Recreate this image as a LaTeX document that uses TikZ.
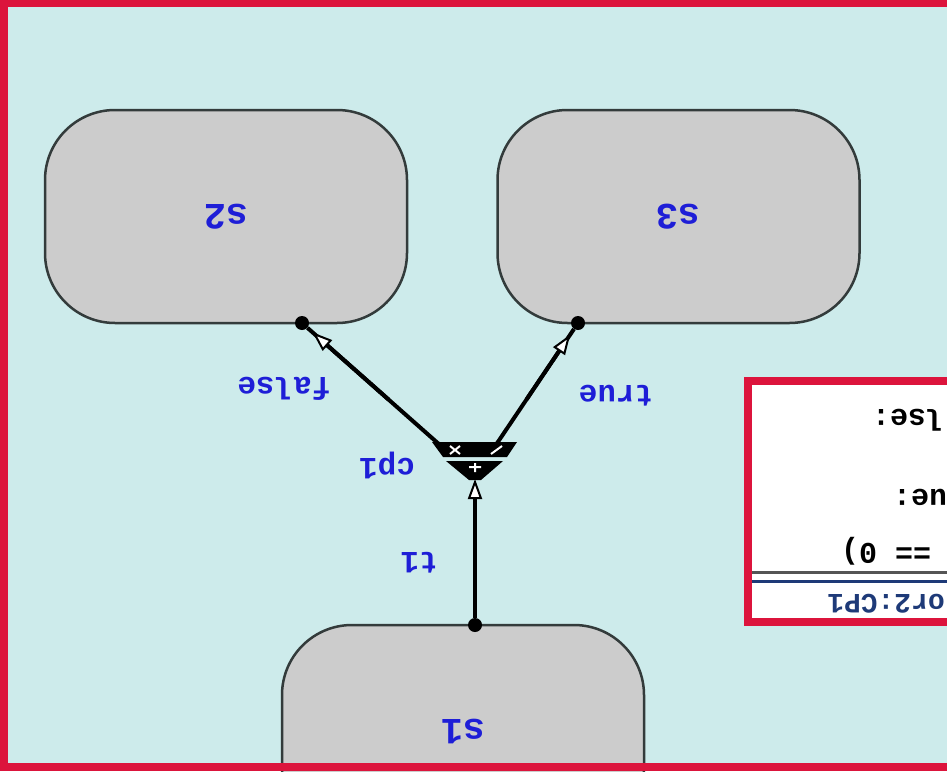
\documentclass[tikz,border=0pt]{standalone}
\usepackage{fontspec}
\setmonofont{Liberation Mono}
\usetikzlibrary{arrows.meta,calc}
\definecolor{bgc}{HTML}{CDEBEB}
\definecolor{redc}{HTML}{DC143C}
\definecolor{stfill}{HTML}{CCCCCC}
\definecolor{stdraw}{HTML}{333B3B}
\definecolor{lblc}{HTML}{1E1ED7}
\definecolor{hdrc}{HTML}{1E3A78}
\definecolor{sepgray}{HTML}{555555}
\begin{document}
\begin{tikzpicture}[x=1pt,y=-1pt,
  state/.style={draw=stdraw, line width=2.5pt, fill=stfill, rounded corners=70pt,
    minimum width=362pt, minimum height=213pt, inner sep=0pt, rotate=180,
    font=\ttfamily\bfseries\fontsize{37}{40}\selectfont, text=lblc},
  lbl/.style={rotate=180, inner sep=0pt, font=\ttfamily\bfseries\fontsize{31}{34}\selectfont, text=lblc},
  boxtxt/.style={rotate=180, inner sep=0pt, anchor=east, font=\ttfamily\bfseries\fontsize{30}{32}\selectfont},
  dotn/.style={circle, fill=black, inner sep=0pt, minimum size=14pt},
  conn/.style={line width=4pt, black},
  otip/.style={-{Triangle[open, length=20pt, width=14pt, fill=white, line width=2pt]}}
]
\useasboundingbox (0,0) rectangle (947,771);
\fill[redc] (0,0) rectangle (947,771);
\fill[bgc] (8,7) rectangle (947,763);

% states
\node[state] (s2) at (226,216.5) {s2};
\node[state] (s3) at (678.5,216.5) {s3};
\node[state] (s1) at (463,731.5) {s1};
\fill[redc] (0,763) rectangle (947,771);

% right box
\draw[redc, line width=8pt, fill=white] (747.5,381) rectangle (990,622);
\draw[sepgray, line width=3pt] (752,572) -- (947,572);
\draw[hdrc, line width=3pt] (752,581) -- (947,581);
\node[boxtxt] (g1) at (841,551) {== 0)};
\node[boxtxt] (g2) at (893,497) {ue:};
\node[boxtxt] (g3) at (872,420) {lse:};
\node[boxtxt, text=hdrc, font=\ttfamily\bfseries\fontsize{28}{30}\selectfont] (hdr) at (827,604) {or2:CP1};

% connection points
\node[dotn] (p2) at (302,323) {};
\node[dotn] (p3) at (578,323) {};
\node[dotn] (p1) at (475,625) {};
\coordinate (cp) at (475,476);
\coordinate (cpin) at (475,479);

% branches
\draw[conn] (p2) -- ($(p2)!0.85!(cp)$);
\draw[conn] (p3) -- ($(p3)!0.85!(cp)$);
\draw[conn, otip] ($(p2)!0.5!(cp)$) -- ($(p2)!14pt!(cp)$);
\draw[conn, otip] ($(p3)!0.5!(cp)$) -- ($(p3)!14pt!(cp)$);

% choice point glyph
\fill[black] (432,442) -- (517,442) -- (507,457) -- (443,457) -- cycle;
\fill[black] (446,461) -- (503,461) -- (481,480) -- (469,480) -- cycle;
\draw[white, line width=2pt] (450,446) -- (460,454) (450,454) -- (460,446)
  (491,454) -- (502,446) (469,467) -- (481,467) (475,463) -- (475,472);

% t1
\draw[conn, otip] (p1) -- (cpin);

% labels
\node[lbl] (lfalse) at (284,389) {false};
\node[lbl] (ltrue) at (616,396) {true};
\node[lbl] (lcp) at (387,465) {cp1};
\node[lbl] (lt1) at (419,563) {t1};
\end{tikzpicture}
\end{document}
